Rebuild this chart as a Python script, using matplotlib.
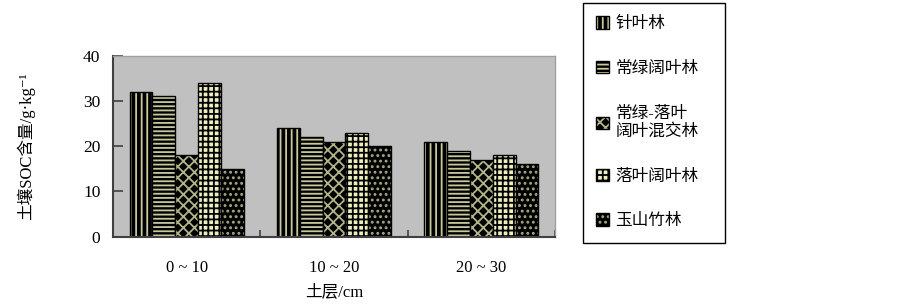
import matplotlib
matplotlib.use("Agg")
import matplotlib.pyplot as plt
import numpy as np

# data
layers = ["0 ~ 10", "10 ~ 20", "20 ~ 30"]
forests = ["针叶林", "常绿阔叶林", "常绿-落叶\n阔叶混交林", "落叶阔叶林", "玉山竹林"]
soc_conifer = [32, 24, 21]
soc_evergreen = [31, 22, 19]
soc_mixed = [18, 21, 17]
soc_deciduous = [34, 23, 18]
soc_bamboo = [15, 20, 16]

fonts = ['Liberation Serif', 'Noto Sans CJK SC', 'DejaVu Sans']
plt.rcParams['font.family'] = fonts
plt.rcParams['hatch.linewidth'] = 1.3

series = [soc_conifer, soc_evergreen, soc_mixed, soc_deciduous, soc_bamboo]
# (face, hatch colour, hatch)
styles = [("black", "#c8c89a", "|||"),
          ("black", "#c8c89a", "----"),
          ("black", "#b4b488", "xxx"),
          ("#eeeebc", "black", "+++"),
          ("black", "#a8a880", "...")]

fig = plt.figure(figsize=(9.03, 3.07), dpi=100)
ax = fig.add_axes([0.1251, 0.2296, 0.4895, 0.589])
ax.set_facecolor("#c0c0c0")

x = np.arange(len(layers))
w = 0.155
handles = []
for i, (vals, (fc, hc, hatch)) in enumerate(zip(series, styles)):
    pos = x + (i - 2) * w
    b1 = ax.bar(pos, vals, w, color=fc, edgecolor=hc, hatch=hatch, linewidth=0)
    b2 = ax.bar(pos, vals, w, facecolor="none", edgecolor="black", linewidth=1)
    handles.append((b1, b2))

ax.set_xlim(-0.5, 2.5)
ax.set_ylim(0, 40)
ax.set_yticks([0, 10, 20, 30, 40])
ax.set_xticks(x)
ax.set_xticklabels(layers, fontsize=12)
ax.set_xticks([-0.5, 0.5, 1.5, 2.5], minor=True)
ax.tick_params(axis='x', which='major', length=0, pad=17)
ax.tick_params(axis='x', which='minor', direction='in', length=5, width=1.2, color="#404040")
ax.tick_params(axis='y', direction='in', length=7, width=1.2, color="#404040", pad=9, labelsize=12.5)

for s in ['left', 'bottom']:
    ax.spines[s].set_color("#404040")
    ax.spines[s].set_linewidth(1.5)
for s in ['top', 'right']:
    ax.spines[s].set_color("#a0a0a0")
    ax.spines[s].set_linewidth(1.0)

ax.set_xlabel("土层/cm", fontsize=12, labelpad=6)
ax.set_ylabel("土壤SOC含量/g·kg⁻¹", fontsize=12)
ax.yaxis.set_label_coords(-0.175, 0.5)

leg = ax.legend(handles, forests, loc='upper left',
                bbox_to_anchor=(583 / 903, 1 - 3 / 307, 142 / 903, 0.0),
                bbox_transform=fig.transFigure, mode='expand',
                borderaxespad=0, fancybox=False, framealpha=1,
                edgecolor="black", fontsize=12, handlelength=0.75,
                handleheight=0.75, handletextpad=0.4, labelspacing=1.72,
                borderpad=0.8)
leg.get_frame().set_linewidth(1.0)

fig.savefig("out.png", dpi=100)
